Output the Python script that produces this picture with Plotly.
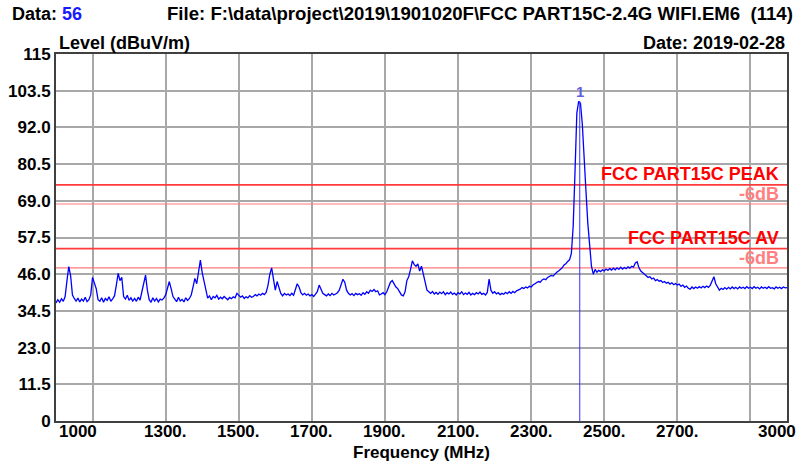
import numpy as np
import plotly.graph_objects as go

# Sweep: 1000-3000 MHz, 5 MHz steps
F_START, F_STEP = 1000, 5
level = [
 37.0, 38.0, 37.2, 38.3, 37.5, 39.0, 44.0, 48.4, 45.5, 39.5, 38.4, 37.6, 38.5, 37.3, 38.2, 37.6, 38.8, 37.4, 38.0, 39.5,
 45.0, 43.0, 41.5, 38.0, 37.5, 38.6, 37.2, 38.4, 37.8, 38.9, 37.5, 38.3, 39.2, 42.5, 46.3, 44.0, 45.0, 39.0, 38.2, 39.4,
 37.8, 38.6, 37.6, 38.4, 37.5, 38.8, 37.9, 40.5, 43.5, 45.7, 41.0, 38.0, 37.2, 38.6, 37.6, 38.4, 37.3, 38.2, 37.9, 38.5,
 39.5, 42.0, 43.7, 41.5, 39.0, 38.2, 37.4, 38.8, 37.6, 38.1, 37.3, 38.6, 37.8, 38.4, 39.5, 42.0, 44.7, 43.0, 47.0, 50.4,
 46.5, 44.0, 41.0, 38.5, 39.2, 38.0, 39.0, 38.6, 39.4, 38.2, 38.8, 38.3, 39.0, 38.5, 38.0, 38.7, 38.3, 38.9, 38.6, 40.0,
 39.5, 38.8, 39.2, 38.4, 38.9, 38.6, 39.3, 38.8, 39.0, 39.6, 39.2, 39.8, 39.4, 40.0, 39.6, 40.3, 42.5, 46.0, 48.0, 44.5,
 41.0, 43.7, 41.5, 40.0, 39.2, 40.0, 39.5, 39.8, 39.3, 40.0, 39.4, 41.0, 43.0, 42.0, 40.2, 39.5, 40.0, 39.4, 39.8, 39.2,
 39.6, 39.0, 39.7, 40.5, 42.6, 41.5, 40.0, 39.6, 39.2, 39.8, 39.3, 40.0, 39.5, 39.8, 40.2, 41.0, 42.5, 44.4, 43.5, 41.0,
 40.0, 39.5, 39.9, 39.3, 40.0, 39.6, 39.9, 39.4, 40.2, 39.7, 40.5, 40.0, 41.0, 40.6, 41.2, 40.5, 40.8, 39.5, 39.8, 40.2,
 39.6, 40.5, 42.0, 43.5, 44.0, 43.0, 42.0, 41.5, 40.5, 39.5, 39.2, 40.5, 44.0, 45.2, 47.5, 50.2, 49.0, 48.5, 49.2, 47.0,
 48.5, 46.0, 44.0, 41.0, 40.5, 40.0, 40.6, 39.8, 40.3, 39.7, 40.4, 39.9, 40.5, 39.6, 40.2, 39.8, 40.4, 39.7, 40.1, 39.5,
 40.2, 39.8, 40.5, 39.6, 40.1, 39.7, 40.3, 39.5, 40.0, 39.6, 40.2, 39.8, 40.4, 39.7, 40.0, 39.5, 40.3, 44.5, 41.0, 40.0,
 40.5, 39.8, 40.2, 39.6, 40.0, 39.7, 40.3, 39.9, 40.5, 40.0, 40.6, 40.2, 40.8, 41.0, 41.3, 41.8, 41.5, 42.0, 41.7, 42.2,
 42.0, 42.6, 43.0, 43.3, 43.7, 43.5, 44.2, 44.5, 44.3, 45.0, 45.2, 45.6, 45.4, 46.2, 46.6, 47.0, 47.4, 48.0, 48.9, 49.3,
 50.0, 50.5, 52.5, 61.0, 78.0, 96.5, 100.2, 99.5, 93.0, 81.0, 72.0, 62.0, 54.0, 48.5, 46.0, 47.5, 46.6, 47.2, 46.8, 47.4,
 47.0, 47.6, 47.2, 47.8, 47.3, 47.9, 47.4, 48.0, 47.5, 48.2, 47.6, 48.1, 47.7, 48.3, 47.9, 48.5, 48.2, 49.5, 49.9, 48.0,
 47.0, 46.4, 45.8, 45.5, 45.0, 45.2, 44.5, 44.8, 44.0, 44.3, 43.8, 44.0, 43.4, 43.7, 43.2, 43.5, 42.9, 43.3, 42.7, 43.1,
 42.6, 42.9, 42.2, 42.6, 41.9, 42.3, 41.6, 41.3, 42.0, 41.5, 42.0, 41.6, 42.1, 41.7, 42.2, 41.8, 42.3, 41.9, 42.5, 44.0,
 45.2, 43.0, 42.2, 41.0, 41.6, 41.2, 41.8, 41.3, 41.9, 41.4, 42.0, 41.5, 41.9, 41.4, 42.0, 41.6, 41.9, 41.5, 42.1, 41.6,
 41.9, 41.5, 42.1, 41.6, 41.9, 41.4, 42.0, 41.6, 41.9, 41.5, 42.1, 41.6, 41.8, 41.4, 42.0, 41.6, 41.9, 41.5, 42.0, 41.7,
 41.8,
]
freq = F_START + F_STEP * np.arange(len(level))

marker_freq = 2433
marker_level = 100.2
marker_label = "1"

limit_peak = 74
limit_av = 54
margin_db = 6
limit_names = ["FCC PART15C PEAK", "FCC PART15C AV"]

y_ticks = [0, 11.5, 23, 34.5, 46, 57.5, 69, 80.5, 92, 103.5, 115]
y_ticktext = ["0", "11.5", "23.0", "34.5", "46.0", "57.5", "69.0", "80.5", "92.0", "103.5", "115"]
x_grid = [1100, 1300, 1500, 1700, 1900, 2100, 2300, 2500, 2700, 2900]
x_labels = ["1300.", "1500.", "1700.", "1900.", "2100.", "2300.", "2500.", "2700."]
x_label_vals = [1300, 1500, 1700, 1900, 2100, 2300, 2500, 2700]

FONT = "Liberation Sans, Arial, sans-serif"
W, H = 803, 464
PL, PR, PT, PB = 56, 787, 54, 421   # plot area in page pixels
L, T, R, B = PL, PT, W - PR, H - PB
PW, PH = PR - PL, PB - PT

def px(xp):
    return (xp - PL) / PW

def py(yp):
    return (PB - yp) / PH

fig = go.Figure()
lim_col = "#ff3b3b"
mar_col = "#ff7a7a"
for lv, col, w in [(limit_peak, lim_col, 1.6), (limit_peak - margin_db, mar_col, 1.2),
                   (limit_av, lim_col, 1.6), (limit_av - margin_db, mar_col, 1.2)]:
    fig.add_trace(go.Scatter(x=[1000, 3000], y=[lv, lv], mode="lines",
                             line=dict(color=col, width=w), hoverinfo="skip", showlegend=False))

fig.add_trace(go.Scatter(x=freq, y=level, mode="lines",
                         line=dict(color="#0000ff", width=1.3), showlegend=False))
fig.add_trace(go.Scatter(x=[marker_freq, marker_freq], y=[0, marker_level], mode="lines",
                         line=dict(color="#3030ff", width=1), showlegend=False))

ann = []
tf = dict(family=FONT, size=17, color="black", weight="bold")
hf = dict(family=FONT, size=18, color="black", weight="bold")
ann.append(dict(text="Data: <span style='color:#1a1aff'>56</span>", x=px(10), y=py(14),
                xref="paper", yref="paper", xanchor="left", yanchor="middle", showarrow=False, font=hf))
ann.append(dict(text="File: F:\\data\\project\\2019\\1901020F\\FCC PART15C-2.4G WIFI.EM6  (114)",
                x=px(480), y=py(14), xref="paper", yref="paper", xanchor="center", yanchor="middle",
                showarrow=False, font=dict(hf, size=18.6)))
ann.append(dict(text="Level (dBuV/m)", x=px(57), y=py(43), xref="paper", yref="paper",
                xanchor="left", yanchor="middle", showarrow=False, font=hf))
ann.append(dict(text="Date: 2019-02-28", x=px(787), y=py(43), xref="paper", yref="paper",
                xanchor="right", yanchor="middle", showarrow=False, font=hf))
ann.append(dict(text="Frequency (MHz)", x=0.5, y=py(452), xref="paper", yref="paper",
                xanchor="center", yanchor="middle", showarrow=False, font=tf))
# x tick labels
ann.append(dict(text="1000", x=px(57), y=py(432), xref="paper", yref="paper",
                xanchor="left", yanchor="middle", showarrow=False, font=tf))
ann.append(dict(text="3000", x=px(798), y=py(432), xref="paper", yref="paper",
                xanchor="right", yanchor="middle", showarrow=False, font=tf))
for v, t in zip(x_label_vals, x_labels):
    ann.append(dict(text=t, x=v, y=py(432), xref="x", yref="paper",
                    xanchor="center", yanchor="middle", showarrow=False, font=tf))
# limit labels
lf = dict(family=FONT, size=18, weight="bold")
for name, lv in zip(limit_names, [limit_peak, limit_av]):
    ann.append(dict(text=name, x=px(781), y=lv + 3.4, xref="paper", yref="y", xanchor="right",
                    yanchor="middle", showarrow=False, font=dict(lf, color="#ff0000")))
    ann.append(dict(text="-6dB", x=px(781), y=lv - 2.9, xref="paper", yref="y", xanchor="right",
                    yanchor="middle", showarrow=False, font=dict(lf, color="#ff8080")))
ann.append(dict(text=marker_label, x=marker_freq, y=marker_level + 3, xref="x", yref="y",
                xanchor="center", yanchor="middle", showarrow=False,
                font=dict(family=FONT, size=15, color="#6060e0", weight="bold")))

fig.update_layout(
    width=W, height=H, margin=dict(l=L, r=R, t=T, b=B, autoexpand=False),
    paper_bgcolor="white", plot_bgcolor="white",
    annotations=ann, showlegend=False,
    xaxis=dict(range=[1000, 3000], tickvals=x_grid, showticklabels=False, ticks="",
               showgrid=True, gridcolor="#a8a8a8", gridwidth=1.5, zeroline=False, automargin=False,
               showline=True, linecolor="#404040", linewidth=2, mirror=True),
    yaxis=dict(range=[0, 115], tickvals=y_ticks, ticktext=y_ticktext, ticks="", automargin=False,
               tickfont=tf, showgrid=True, gridcolor="#a8a8a8", gridwidth=1.5, zeroline=False,
               showline=True, linecolor="#404040", linewidth=2, mirror=True, ticklabelstandoff=0),
)
fig.write_html("out.html", config={"displayModeBar": False},
               post_script="document.body.style.margin='0';")
